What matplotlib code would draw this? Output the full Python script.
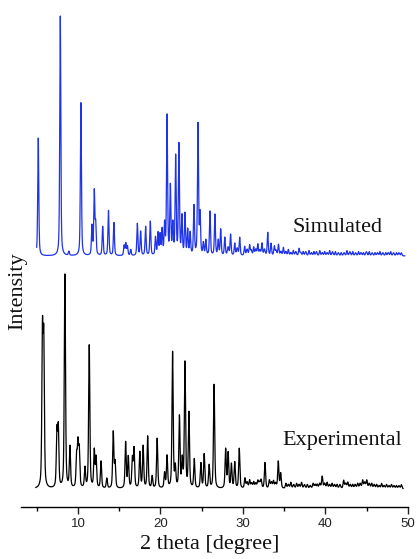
import numpy as np
import matplotlib
matplotlib.use('Agg')
import matplotlib.pyplot as plt

# peak positions (2 theta, deg) and heights (arb. units)
SIM_POS = [5.19, 7.86, 8.9, 10.36, 11.7, 11.98, 12.15, 13.0, 13.7, 14.36,
           15.6, 15.8, 16.0, 16.4, 17.2, 17.6, 18.2, 18.77, 19.4, 19.7,
           19.95, 20.2, 20.5, 20.8, 21.2, 21.5, 21.84, 22.24, 22.6, 22.97,
           23.3, 23.6, 24.06, 24.55, 24.8, 25.2, 25.5, 26.0, 26.6, 27.0,
           27.3, 27.8, 28.5, 29.0, 29.6, 30.2, 30.8, 31.3, 31.8, 32.3,
           33.0, 33.4, 33.8, 34.3, 34.9, 35.5, 36.1, 36.8, 37.3, 38.0,
           38.6, 39.3, 39.9, 40.5, 41.2, 41.9, 42.6, 43.3, 44.0, 44.6,
           45.3, 46.0, 46.6, 47.3, 47.9, 48.6, 49.2]
SIM_INT = [118, 240, 4, 153, 29, 63, 30, 29, 45, 33,
           10, 12, 9, 6, 32, 24, 29, 34, 18, 22,
           20, 25, 30, 139, 68, 30, 98, 110, 38, 41,
           25, 22, 49, 131, 40, 12, 15, 44, 41, 15,
           26, 18, 21, 12, 18, 9, 10, 8, 11, 12,
           23, 12, 9, 11, 8, 6, 5, 7, 4, 5,
           4, 5, 4, 5, 4, 3, 5, 4, 4, 3,
           4, 3, 4, 3, 4, 3, 3]
# small ripples between the listed peaks in the high-angle part
SIM_RIP_POS = [28.2, 29.3, 30.5, 31.0, 31.55, 32.05, 32.6, 34.0, 34.6, 35.2,
               35.8, 36.4, 37.0, 37.6, 38.3, 38.9, 39.6, 40.2, 40.85, 41.55,
               42.25, 42.95, 43.65, 44.3, 44.95, 45.65, 46.3, 46.95, 47.6,
               48.25, 48.9]
SIM_RIP_INT = [8, 7, 6, 5, 6, 5, 6, 5, 4, 4,
               3, 4, 3, 4, 3, 4, 3, 3, 4, 3,
               3, 4, 3, 3, 4, 3, 3, 3, 3,
               3, 3]

EXP_POS = [5.7, 5.86, 7.45, 7.62, 8.42, 9.03, 9.84, 10.0, 10.16, 10.85,
           11.37, 11.98, 12.2, 12.8, 13.5, 14.28, 14.5, 15.78, 16.1, 16.6,
           16.8, 17.5, 17.9, 18.45, 19.0, 19.6, 20.5, 20.8, 21.47, 21.8,
           22.3, 22.64, 22.97, 23.45, 24.1, 24.9, 25.3, 25.9, 26.5, 27.9,
           28.2, 28.6, 29.0, 29.55, 30.24, 30.8, 31.3, 31.8, 32.2, 32.67,
           33.2, 33.7, 34.28, 34.57, 35.2, 35.8, 36.5, 37.1, 37.8, 38.5,
           39.0, 39.6, 40.2, 40.8, 41.4, 42.2, 42.7, 43.3, 43.9, 44.5,
           45.0, 45.6, 46.2, 46.8, 47.4, 48.0, 48.6, 49.2]
EXP_INT = [150, 140, 55, 58, 214, 41, 30, 41, 36, 20,
           143, 37, 30, 27, 10, 56, 25, 46, 31, 29,
           39, 36, 42, 52, 12, 50, 15, 32, 136, 20,
           71, 27, 125, 75, 29, 25, 34, 23, 104, 39,
           35, 24, 26, 40, 10, 8, 6, 7, 8, 26,
           8, 7, 27, 15, 5, 6, 5, 6, 4, 5,
           4, 12, 6, 5, 4, 8, 6, 4, 5, 8,
           8, 5, 4, 5, 4, 4, 3, 4]
EXP_RIP_POS = [30.5, 31.05, 31.55, 32.0, 33.45, 33.95, 35.5, 36.15, 36.8,
               37.45, 38.15, 38.75, 39.3, 39.9, 40.5, 41.1, 41.75, 42.45,
               43.0, 43.6, 44.2, 44.75, 45.3, 45.9, 46.5, 47.1, 47.7, 48.3,
               48.9]
EXP_RIP_INT = [6, 5, 5, 6, 6, 5, 4, 4, 4,
               4, 3, 4, 5, 5, 4, 4, 4, 5,
               4, 4, 5, 6, 5, 4, 3, 3, 3, 3,
               3]

SIM_OFFSET = 251
EXP_OFFSET = 18


def pattern(x, pos, inten, fwhm, eta=0.5):
    y = np.zeros_like(x)
    g = fwhm / 2.355
    for p, h in zip(pos, inten):
        lor = 1.0 / (1.0 + ((x - p) / (fwhm / 2)) ** 2)
        gau = np.exp(-0.5 * ((x - p) / g) ** 2)
        y += h * (eta * lor + (1 - eta) * gau)
    return y


x_sim = np.linspace(5.0, 49.6, 6000)
x_exp = np.linspace(4.9, 49.4, 6000)
y_sim = (pattern(x_sim, SIM_POS, SIM_INT, 0.15)
         + pattern(x_sim, SIM_RIP_POS, SIM_RIP_INT, 0.2) + SIM_OFFSET)
y_exp = (pattern(x_exp, EXP_POS, EXP_INT, 0.17)
         + pattern(x_exp, EXP_RIP_POS, EXP_RIP_INT, 0.22) + EXP_OFFSET)

fig = plt.figure(figsize=(4.17, 5.59), dpi=100)
W, H = 417, 559
ax = fig.add_axes([21 / W, 1 - 507 / H, (408 - 21) / W, (507 - 5) / H])

ax.plot(x_sim, y_sim, color='#1f33e8', lw=0.9)
ax.plot(x_exp, y_exp, color='black', lw=0.9)

ax.set_xlim(3.1, 50)
ax.set_ylim(0, 502)
for s in ['left', 'right', 'top']:
    ax.spines[s].set_visible(False)
ax.spines['bottom'].set_linewidth(1.0)
ax.set_yticks([])
ax.set_xticks([10, 20, 30, 40, 50])
ax.set_xticks([5, 15, 25, 35, 45], minor=True)
ax.tick_params(axis='x', which='major', length=5, width=1, direction='out',
               labelsize=9.5, pad=3, colors='#222222')
ax.tick_params(axis='x', which='minor', length=3, width=1, direction='out')
for lab in ax.get_xticklabels():
    lab.set_family('Liberation Sans')

serif = 'Liberation Serif'
fig.text(292 / W, 1 - 232 / H, 'Simulated', fontsize=16, family=serif,
         ha='left', va='baseline', color='#111111')
fig.text(282 / W, 1 - 445 / H, 'Experimental', fontsize=16, family=serif,
         ha='left', va='baseline', color='#111111')
fig.text(18 / W, 1 - 291 / H, 'Intensity', fontsize=16, family=serif,
         rotation=90, ha='center', va='center', color='#111111')
fig.text(210 / W, 1 - 545 / H, '2 theta [degree]', fontsize=16, family=serif,
         ha='center', va='center', color='#111111')

fig.savefig('out.png', dpi=100)
